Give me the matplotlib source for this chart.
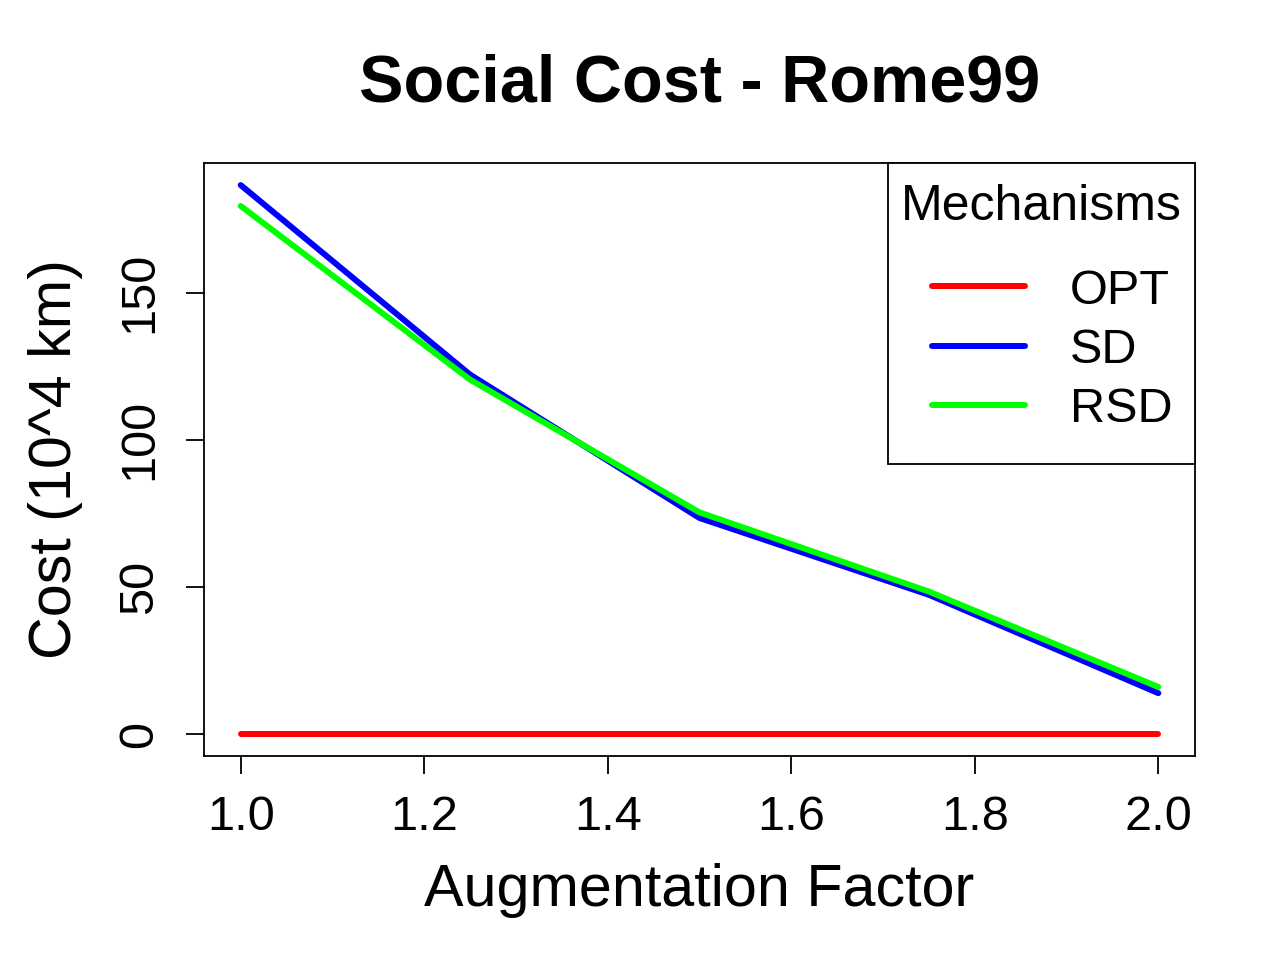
import matplotlib
matplotlib.use("Agg")
import matplotlib.pyplot as plt
from matplotlib.lines import Line2D
from matplotlib.patches import Rectangle

plt.rcParams['font.family'] = ['Liberation Sans', 'DejaVu Sans']

factor = [1.0, 1.25, 1.5, 1.75, 2.0]
opt = [0, 0, 0, 0, 0]
sd = [186.5, 122.1, 73.4, 47.3, 13.9]
rsd = [179.4, 120.4, 75.3, 48.4, 16.0]
series_names = ["OPT", "SD", "RSD"]
series_colors = ["#FF0000", "#0000FF", "#00FF00"]
xticks = [1.0, 1.2, 1.4, 1.6, 1.8, 2.0]
yticks = [0, 50, 100, 150]

W, H = 1280, 960
fig = plt.figure(figsize=(12.8, 9.6), dpi=100)
ax = fig.add_axes([204/W, 1-756/H, (1195-204)/W, (756-163)/H])

lw = 4.3
for vals, name, col in zip([opt, sd, rsd], series_names, series_colors):
    ax.plot(factor, vals, color=col, lw=lw, solid_capstyle='round', solid_joinstyle='round', label=name)

ax.set_xlim(0.96, 2.04)
ax.set_ylim(-7.46, 194.0)
ax.set_xticks(xticks)
ax.set_xticklabels([f"{t:.1f}" for t in xticks])
ax.set_yticks(yticks)
ax.set_yticklabels([str(t) for t in yticks], rotation=90, va='center')
ax.tick_params(axis='both', direction='out', length=13, width=1.3, labelsize=35, pad=15)
ax.tick_params(axis='y', pad=17)
for s in ax.spines.values():
    s.set_linewidth(1.3)

ax.set_xlabel("Augmentation Factor", fontsize=42.7, labelpad=17)
ax.set_ylabel("Cost (10^4 km)", fontsize=42.7, labelpad=25)
fig.text((204+1195)/2/W, 1-84/H, "Social Cost - Rome99", fontsize=48, fontweight='bold',
         ha='center', va='center')

# legend (R style)
def fx(px):
    return px / W
def fy(py):
    return 1 - py / H
fig.patches.append(Rectangle((fx(888), fy(464)), fx(1195) - fx(888), fy(163) - fy(464),
                             transform=fig.transFigure, fill=True, facecolor='white',
                             edgecolor='black', lw=1.3, zorder=5))
fig.text(fx(1041), fy(207), "Mechanisms", fontsize=36, ha='center', va='center', zorder=6)
for i, (name, col) in enumerate(zip(series_names, series_colors)):
    yy = 286 + i * 59.5
    fig.lines.append(Line2D([fx(932), fx(1025)], [fy(yy), fy(yy)], color=col, lw=lw,
                            solid_capstyle='round', transform=fig.transFigure, zorder=6))
    fig.text(fx(1070), fy(yy), name, fontsize=35, ha='left', va='center_baseline', zorder=6)

fig.savefig("out.png", dpi=100)
